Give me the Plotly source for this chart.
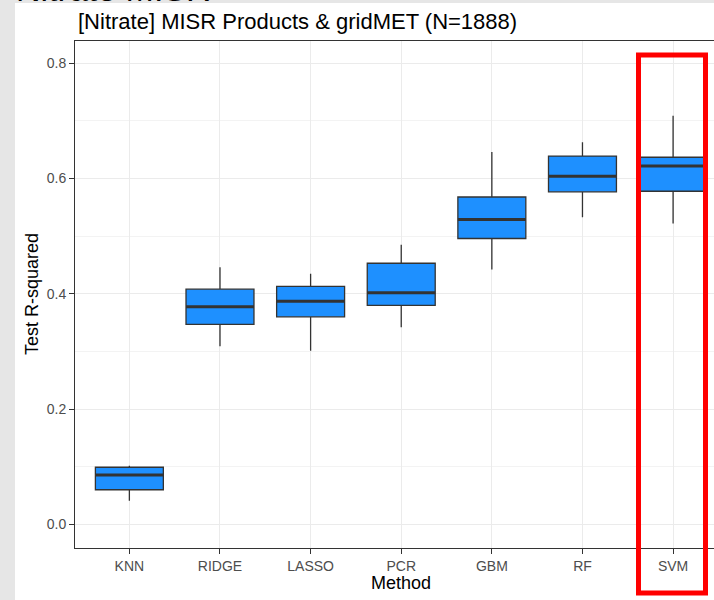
import plotly.graph_objects as go

# ---- data ----
methods = ["KNN", "RIDGE", "LASSO", "PCR", "GBM", "RF", "SVM"]
lower_whisker = [0.041, 0.309, 0.301, 0.342, 0.442, 0.533, 0.522]
q1_values = [0.060, 0.347, 0.360, 0.380, 0.496, 0.577, 0.578]
median_values = [0.0855, 0.3775, 0.387, 0.402, 0.529, 0.604, 0.622]
q3_values = [0.099, 0.408, 0.413, 0.453, 0.568, 0.639, 0.637]
upper_whisker = [0.1016, 0.446, 0.435, 0.485, 0.646, 0.663, 0.709]
y_ticks = [0.0, 0.2, 0.4, 0.6, 0.8]
y_tick_labels = ["0.0", "0.2", "0.4", "0.6", "0.8"]
title_text = "[Nitrate] MISR Products & gridMET (N=1888)"

# ---- layout geometry ----
W, H = 714, 600
L, R, T, B = 75, 0, 41, 52
pw, ph = W - L - R, H - T - B
BOX_W = 0.75


def px_x(px):
    return (px - L) / pw


def px_y(py):
    return (H - B - py) / ph


positions = list(range(len(methods)))

fig = go.Figure()
fig.add_trace(go.Box(
    x=positions,
    q1=q1_values, median=median_values, q3=q3_values,
    lowerfence=lower_whisker, upperfence=upper_whisker,
    width=BOX_W, whiskerwidth=0,
    fillcolor="#1E90FF",
    line=dict(color="#333333", width=1.3),
    boxpoints=False, showlegend=False, hoverinfo="skip",
))

# thicker median bars (ggplot fatten)
mx, my = [], []
for p, m in zip(positions, median_values):
    mx += [p - BOX_W / 2, p + BOX_W / 2, None]
    my += [m, m, None]
fig.add_trace(go.Scatter(x=mx, y=my, mode="lines",
                         line=dict(color="#333333", width=3),
                         showlegend=False, hoverinfo="skip"))

font_family = "Liberation Sans, Arial, sans-serif"

fig.update_layout(
    width=W, height=H,
    margin=dict(l=L, r=R, t=T, b=B, pad=0),
    paper_bgcolor="white", plot_bgcolor="white",
    font=dict(family=font_family, color="#4D4D4D"),
    xaxis=dict(
        range=[-0.6, -0.6 + pw / 90.62],
        tickmode="array", tickvals=positions, ticktext=methods,
        ticks="outside", ticklen=5, tickcolor="#333333", tickwidth=1,
        tickfont=dict(size=14, color="#4D4D4D"),
        showgrid=True, gridcolor="#EBEBEB", gridwidth=1,
        showline=True, linecolor="#333333", linewidth=1, mirror=True,
        zeroline=False,
    ),
    yaxis=dict(
        range=[-0.0411, 0.8387],
        tickmode="array", tickvals=y_ticks, ticktext=y_tick_labels,
        ticks="outside", ticklen=5, tickcolor="#333333", tickwidth=1,
        tickfont=dict(size=14, color="#4D4D4D"),
        showgrid=True, gridcolor="#EBEBEB", gridwidth=1,
        minor=dict(dtick=0.1, tick0=0.1, showgrid=True,
                   gridcolor="#F3F3F3", gridwidth=1, ticks=""),
        showline=True, linecolor="#333333", linewidth=1, mirror=False,
        zeroline=False,
    ),
)

# background strips (cropped screenshot edges)
fig.add_shape(type="rect", xref="paper", yref="paper",
              x0=px_x(0), x1=px_x(15), y0=px_y(H), y1=px_y(0),
              fillcolor="#E6E6E6", line=dict(width=0), layer="below")
fig.add_shape(type="rect", xref="paper", yref="paper",
              x0=px_x(0), x1=1, y0=px_y(3), y1=px_y(0),
              fillcolor="#E6E6E6", line=dict(width=0), layer="below")

# red highlight around SVM
fig.add_shape(type="rect", xref="paper", yref="paper",
              x0=px_x(638.5), x1=px_x(705.5), y0=px_y(593), y1=px_y(55),
              line=dict(color="#FF0000", width=5), fillcolor="rgba(0,0,0,0)")

# texts
fig.add_annotation(text=title_text, xref="paper", yref="paper",
                   x=px_x(76), y=px_y(21), xanchor="left", yanchor="middle",
                   showarrow=False, font=dict(size=22, color="black", family=font_family))
fig.add_annotation(text="Test R-squared", xref="paper", yref="paper",
                   x=px_x(31.5), y=0.5, textangle=-90, xanchor="center", yanchor="middle",
                   showarrow=False, font=dict(size=18, color="black", family=font_family))
fig.add_annotation(text="Method", xref="paper", yref="paper",
                   x=px_x(401), y=px_y(583), xanchor="center", yanchor="middle",
                   showarrow=False, font=dict(size=18, color="black", family=font_family))
# cut-off heading at the very top of the crop (only the glyph bottoms are visible)
fig.add_annotation(text="Nitrate MISR", xref="paper", yref="paper",
                   x=px_x(14), y=px_y(-11), xanchor="left", yanchor="middle",
                   showarrow=False, font=dict(size=34, color="black", family=font_family))

fig.write_html("out.html", config={"displayModeBar": False},
               post_script="document.body.style.margin='0';document.body.style.overflow='hidden';")
